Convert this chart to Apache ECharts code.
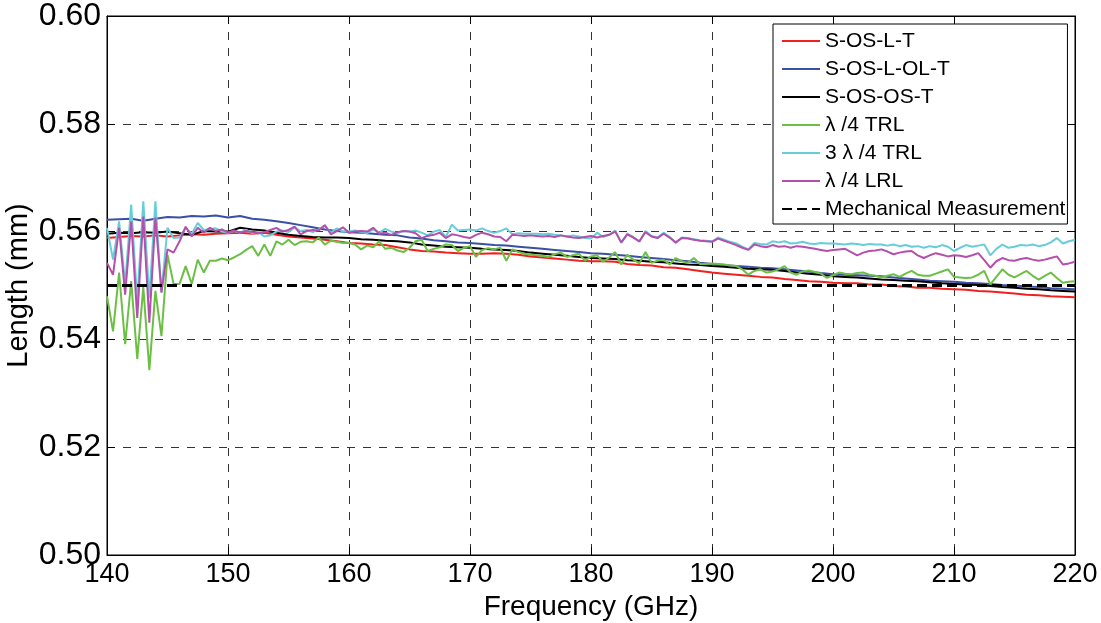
<!DOCTYPE html>
<html>
<head>
<meta charset="utf-8">
<script src="https://cdn.jsdelivr.net/npm/echarts@6/dist/echarts.min.js"></script>
<style>
  html, body { margin: 0; padding: 0; background: #fff; }
  #chart { width: 1101px; height: 623px; }
</style>
</head>
<body>
<div id="chart"></div>
<script>
// frequency grids (GHz): 1 GHz for the smooth curves, 0.5 GHz for the noisy ones
var freqCoarse = [];
for (var f = 140; f <= 220; f += 1) freqCoarse.push(f);
var freqFine = [];
for (var k = 0; k <= 160; k++) freqFine.push(140 + k * 0.5);
var freqEnds = [140, 220];

// S-OS-L-T
var sosltT = [
  0.5588,0.5590,0.5592,0.5591,0.5593,0.5591,0.5593,0.5595,0.5594,0.5596,
  0.5597,0.5598,0.5596,0.5598,0.5594,0.5591,0.5589,0.5587,0.5585,0.5582,
  0.5579,0.5578,0.5576,0.5575,0.5571,0.5567,0.5564,0.5563,0.5561,0.5560,
  0.5559,0.5559,0.5560,0.5559,0.5557,0.5554,0.5552,0.5550,0.5548,0.5546,
  0.5545,0.5545,0.5544,0.5540,0.5538,0.5537,0.5534,0.5533,0.5530,0.5527,
  0.5524,0.5522,0.5520,0.5518,0.5516,0.5515,0.5512,0.5510,0.5508,0.5507,
  0.5505,0.5504,0.5504,0.5502,0.5502,0.5499,0.5498,0.5496,0.5496,0.5494,
  0.5493,0.5492,0.5490,0.5489,0.5487,0.5485,0.5483,0.5482,0.5480,0.5479,
  0.5478
];
// S-OS-L-OL-T
var sosLolT = [
  0.5622,0.5623,0.5624,0.5620,0.5624,0.5627,0.5626,0.5629,0.5628,0.5630,
  0.5626,0.5629,0.5624,0.5622,0.5619,0.5616,0.5612,0.5608,0.5604,0.5601,
  0.5599,0.5598,0.5596,0.5594,0.5593,0.5589,0.5587,0.5584,0.5582,0.5580,
  0.5579,0.5577,0.5575,0.5574,0.5572,0.5570,0.5568,0.5566,0.5564,0.5562,
  0.5560,0.5559,0.5557,0.5555,0.5553,0.5551,0.5549,0.5547,0.5545,0.5542,
  0.5540,0.5538,0.5536,0.5535,0.5533,0.5532,0.5530,0.5528,0.5526,0.5523,
  0.5521,0.5520,0.5519,0.5518,0.5517,0.5515,0.5513,0.5511,0.5509,0.5508,
  0.5507,0.5505,0.5504,0.5503,0.5501,0.5500,0.5498,0.5497,0.5495,0.5494,
  0.5493
];
// S-OS-OS-T
var sosOsT = [
  0.5596,0.5598,0.5597,0.5599,0.5598,0.5600,0.5597,0.5594,0.5601,0.5600,
  0.5600,0.5607,0.5604,0.5602,0.5598,0.5594,0.5592,0.5590,0.5589,0.5589,
  0.5588,0.5586,0.5585,0.5583,0.5582,0.5580,0.5576,0.5574,0.5572,0.5571,
  0.5570,0.5568,0.5567,0.5566,0.5564,0.5561,0.5559,0.5557,0.5555,0.5553,
  0.5551,0.5550,0.5549,0.5547,0.5546,0.5544,0.5543,0.5541,0.5539,0.5538,
  0.5536,0.5535,0.5533,0.5531,0.5530,0.5529,0.5527,0.5524,0.5522,0.5520,
  0.5517,0.5516,0.5515,0.5513,0.5511,0.5510,0.5509,0.5508,0.5506,0.5504,
  0.5503,0.5502,0.5501,0.5499,0.5497,0.5496,0.5494,0.5493,0.5491,0.5490,
  0.5489
];
// lambda/4 TRL
var trlQuarter = [
  0.5480,0.5415,0.5524,0.5391,0.5508,0.5364,0.5497,0.5343,0.5490,0.5406,
  0.5557,0.5503,0.5503,0.5536,0.5503,0.5548,0.5524,0.5546,0.5546,0.5550,
  0.5547,0.5552,0.5558,0.5566,0.5573,0.5555,0.5576,0.5555,0.5582,0.5576,
  0.5585,0.5575,0.5581,0.5582,0.5580,0.5589,0.5576,0.5583,0.5581,0.5579,
  0.5579,0.5576,0.5567,0.5574,0.5571,0.5582,0.5568,0.5570,0.5565,0.5562,
  0.5570,0.5582,0.5585,0.5564,0.5568,0.5571,0.5576,0.5575,0.5564,0.5570,
  0.5573,0.5553,0.5566,0.5569,0.5567,0.5570,0.5546,0.5567,0.5562,0.5559,
  0.5557,0.5556,0.5555,0.5553,0.5558,0.5561,0.5553,0.5556,0.5559,0.5546,
  0.5554,0.5556,0.5544,0.5552,0.5562,0.5539,0.5557,0.5548,0.5541,0.5562,
  0.5542,0.5546,0.5548,0.5539,0.5551,0.5545,0.5542,0.5551,0.5540,0.5540,
  0.5541,0.5540,0.5539,0.5537,0.5536,0.5530,0.5520,0.5527,0.5530,0.5524,
  0.5526,0.5530,0.5536,0.5524,0.5520,0.5526,0.5528,0.5525,0.5522,0.5514,
  0.5519,0.5524,0.5522,0.5521,0.5523,0.5524,0.5520,0.5518,0.5515,0.5518,
  0.5521,0.5516,0.5522,0.5527,0.5520,0.5518,0.5518,0.5522,0.5526,0.5530,
  0.5516,0.5515,0.5514,0.5515,0.5520,0.5527,0.5502,0.5516,0.5530,0.5520,
  0.5515,0.5521,0.5527,0.5518,0.5511,0.5518,0.5524,0.5514,0.5505,0.5507,
  0.5508
];
// 3 lambda/4 TRL
var trlThreeQuarter = [
  0.5607,0.5548,0.5619,0.5502,0.5650,0.5471,0.5656,0.5477,0.5656,0.5487,
  0.5607,0.5588,0.5589,0.5607,0.5596,0.5616,0.5603,0.5605,0.5606,0.5600,
  0.5598,0.5601,0.5598,0.5603,0.5597,0.5600,0.5591,0.5593,0.5600,0.5602,
  0.5599,0.5608,0.5601,0.5603,0.5599,0.5604,0.5611,0.5598,0.5606,0.5600,
  0.5600,0.5602,0.5599,0.5597,0.5604,0.5598,0.5605,0.5600,0.5597,0.5601,
  0.5600,0.5602,0.5598,0.5593,0.5600,0.5603,0.5590,0.5613,0.5602,0.5603,
  0.5604,0.5602,0.5606,0.5601,0.5598,0.5601,0.5606,0.5595,0.5597,0.5596,
  0.5596,0.5596,0.5595,0.5596,0.5594,0.5593,0.5591,0.5593,0.5591,0.5588,
  0.5587,0.5598,0.5590,0.5594,0.5602,0.5579,0.5596,0.5590,0.5581,0.5601,
  0.5592,0.5589,0.5598,0.5590,0.5579,0.5589,0.5588,0.5586,0.5584,0.5583,
  0.5582,0.5589,0.5585,0.5581,0.5578,0.5572,0.5567,0.5579,0.5577,0.5576,
  0.5582,0.5580,0.5582,0.5578,0.5579,0.5581,0.5578,0.5577,0.5579,0.5578,
  0.5578,0.5577,0.5576,0.5578,0.5577,0.5575,0.5577,0.5576,0.5576,0.5574,
  0.5576,0.5573,0.5575,0.5572,0.5573,0.5570,0.5573,0.5571,0.5575,0.5572,
  0.5564,0.5570,0.5575,0.5572,0.5574,0.5576,0.5556,0.5568,0.5576,0.5570,
  0.5572,0.5575,0.5574,0.5576,0.5573,0.5575,0.5580,0.5588,0.5578,0.5582,
  0.5585
];
// lambda/4 LRL
var lrlQuarter = [
  0.5542,0.5520,0.5607,0.5483,0.5619,0.5440,0.5628,0.5431,0.5626,0.5487,
  0.5567,0.5561,0.5582,0.5609,0.5591,0.5607,0.5598,0.5607,0.5601,0.5604,
  0.5598,0.5602,0.5598,0.5601,0.5599,0.5597,0.5599,0.5603,0.5607,0.5600,
  0.5603,0.5609,0.5595,0.5601,0.5603,0.5602,0.5612,0.5595,0.5601,0.5608,
  0.5598,0.5600,0.5601,0.5600,0.5607,0.5596,0.5598,0.5594,0.5599,0.5601,
  0.5600,0.5597,0.5588,0.5592,0.5594,0.5598,0.5588,0.5595,0.5593,0.5590,
  0.5588,0.5594,0.5598,0.5595,0.5591,0.5590,0.5582,0.5594,0.5593,0.5592,
  0.5593,0.5592,0.5591,0.5592,0.5590,0.5593,0.5591,0.5589,0.5588,0.5590,
  0.5592,0.5589,0.5592,0.5594,0.5600,0.5580,0.5595,0.5589,0.5582,0.5599,
  0.5591,0.5588,0.5596,0.5589,0.5580,0.5588,0.5587,0.5585,0.5583,0.5582,
  0.5581,0.5587,0.5583,0.5579,0.5575,0.5570,0.5566,0.5576,0.5573,0.5571,
  0.5575,0.5572,0.5573,0.5570,0.5573,0.5572,0.5570,0.5568,0.5566,0.5564,
  0.5566,0.5567,0.5568,0.5562,0.5556,0.5561,0.5564,0.5565,0.5567,0.5563,
  0.5558,0.5561,0.5563,0.5564,0.5556,0.5551,0.5556,0.5560,0.5557,0.5554,
  0.5556,0.5555,0.5553,0.5556,0.5560,0.5547,0.5533,0.5545,0.5551,0.5547,
  0.5546,0.5549,0.5551,0.5548,0.5546,0.5548,0.5551,0.5554,0.5539,0.5541,
  0.5544
];
// mechanical measurement
var mechanical = [0.55, 0.55];

var seriesNames = ['S-OS-L-T', 'S-OS-L-OL-T', 'S-OS-OS-T', 'λ /4 TRL', '3 λ /4 TRL', 'λ /4 LRL', 'Mechanical Measurement'];
var seriesColors = ['#f0201e', '#3a4fa6', '#000000', '#6cbf45', '#66cdd9', '#b450ab', '#000000'];

function pairs(xs, ys) {
  return xs.map(function (x, i) { return [x, ys[i]]; });
}

var chart = echarts.init(document.getElementById('chart'));

var font = "'Liberation Sans', Arial, sans-serif";
var gridDash = { color: '#333', width: 1, type: [8, 8] };

function line(idx, xs, ys, extra) {
  var s = {
    name: seriesNames[idx],
    type: 'line',
    data: pairs(xs, ys),
    symbol: 'none',
    showSymbol: false,
    animation: false,
    lineStyle: { color: seriesColors[idx], width: 2 },
    itemStyle: { color: seriesColors[idx] },
    z: 3 + idx
  };
  if (extra) s.lineStyle = Object.assign(s.lineStyle, extra);
  return s;
}

var option = {
  backgroundColor: '#fff',
  animation: false,
  grid: {
    left: 107, right: 26, top: 16, bottom: 68,
    outerBoundsMode: 'none',
    show: true, borderColor: '#000', borderWidth: 1, backgroundColor: '#fff'
  },
  legend: {
    orient: 'vertical',
    left: 773, top: 24,
    padding: [6, 2, 4, 8],
    itemGap: 6,
    itemWidth: 38, itemHeight: 14,
    icon: 'inherit',
    // hide the marker dot, keep only the line sample
    itemStyle: { opacity: 0, borderWidth: 0 },
    backgroundColor: '#fff',
    borderColor: '#000', borderWidth: 1,
    textStyle: { fontFamily: font, fontSize: 21, color: '#000', lineHeight: 22 },
    data: seriesNames
  },
  xAxis: [{
    type: 'value', min: 140, max: 220, interval: 10,
    name: 'Frequency (GHz)', nameLocation: 'middle', nameGap: 38,
    nameTextStyle: { fontFamily: font, fontSize: 28, color: '#000' },
    axisLine: { show: true, onZero: false, lineStyle: { color: '#000', width: 1 } },
    axisTick: { show: true, inside: true, length: 8, lineStyle: { color: '#000' } },
    axisLabel: { fontFamily: font, fontSize: 27, color: '#000', margin: 6 },
    splitLine: { show: true, lineStyle: gridDash }
  }, {
    type: 'value', min: 140, max: 220, interval: 10, position: 'top',
    axisLine: { show: true, lineStyle: { color: '#000' } },
    axisTick: { show: true, inside: true, length: 8, lineStyle: { color: '#000' } },
    axisLabel: { show: false }, splitLine: { show: false }
  }],
  yAxis: [{
    type: 'value', min: 0.5, max: 0.6, interval: 0.02,
    name: 'Length (mm)', nameLocation: 'middle', nameGap: 74,
    nameMoveOverlap: false,
    nameTextStyle: { fontFamily: font, fontSize: 29, color: '#000' },
    axisLine: { show: true, onZero: false, lineStyle: { color: '#000', width: 1 } },
    axisTick: { show: true, inside: true, length: 8, lineStyle: { color: '#000' } },
    axisLabel: {
      fontFamily: font, fontSize: 32, color: '#000', margin: 6,
      formatter: function (v) { return v.toFixed(2); }
    },
    splitLine: { show: true, lineStyle: gridDash }
  }, {
    type: 'value', min: 0.5, max: 0.6, interval: 0.02, position: 'right',
    axisLine: { show: true, lineStyle: { color: '#000' } },
    axisTick: { show: true, inside: true, length: 8, lineStyle: { color: '#000' } },
    axisLabel: { show: false }, splitLine: { show: false }
  }],
  series: [
    line(0, freqCoarse, sosltT),
    line(1, freqCoarse, sosLolT),
    line(2, freqCoarse, sosOsT),
    line(3, freqFine, trlQuarter),
    line(4, freqFine, trlThreeQuarter),
    line(5, freqFine, lrlQuarter),
    line(6, freqEnds, mechanical, { width: 3, type: [10, 5] })
  ]
};

chart.setOption(option);
</script>
</body>
</html>
